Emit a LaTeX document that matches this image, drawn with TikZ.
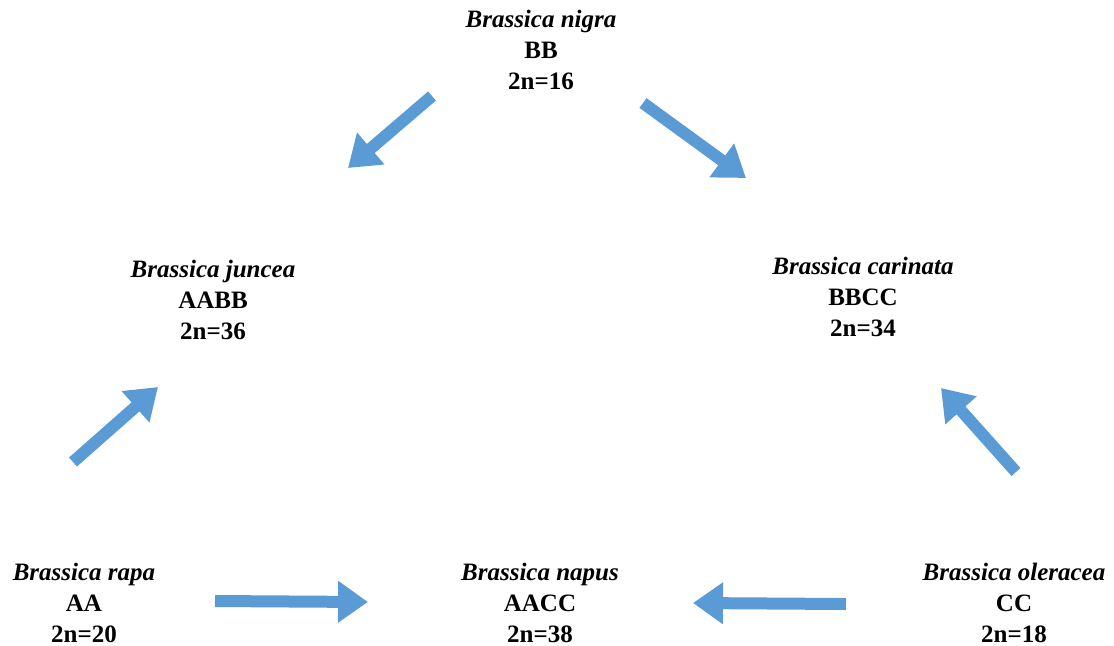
\documentclass[tikz,border=0pt]{standalone}
\usepackage{fontspec}
\setmainfont{Liberation Serif}
\usepackage{tikz}
\usetikzlibrary{arrows.meta,calc}
\definecolor{arrowblue}{HTML}{5B9BD5}

\begin{document}
\begin{tikzpicture}[x=0.5pt,y=-0.5pt,
  species/.style={align=center,inner sep=0pt,font=\fontsize{12.5}{15.5}\selectfont\bfseries},
  fatarrow/.style={draw=arrowblue,line width=6pt,-{Triangle[width=20pt,length=15pt]}}]
\useasboundingbox (0,0) rectangle (1114,645);
\node[species] (nigra) at(541,50){\textit{Brassica nigra}\\BB\\2n=16};
\node[species] (juncea) at(213,300){\textit{Brassica juncea}\\AABB\\2n=36};
\node[species] (carinata) at(863,297){\textit{Brassica carinata}\\BBCC\\2n=34};
\node[species] (rapa) at(84,603){\textit{Brassica rapa}\\AA\\2n=20};
\node[species] (napus) at(540,603){\textit{Brassica napus}\\AACC\\2n=38};
\node[species] (oleracea) at(1014,603){\textit{Brassica oleracea}\\CC\\2n=18};
% arrows float between the names
\draw[fatarrow] ($(nigra)+(-109,46)$)--($(juncea)+(135,-132)$);
\draw[fatarrow] ($(nigra)+(102,53)$)--($(carinata)+(-117,-119)$);
\draw[fatarrow] ($(rapa)+(-11,-141)$)--($(juncea)+(-55,87)$);
\draw[fatarrow] ($(oleracea)+(2,-131)$)--($(carinata)+(78,91)$);
\draw[fatarrow] ($(rapa)+(131,-2)$)--($(napus)+(-172,-1)$);
\draw[fatarrow] ($(oleracea)+(-168,1)$)--($(napus)+(153,0)$);
\end{tikzpicture}
\end{document}
